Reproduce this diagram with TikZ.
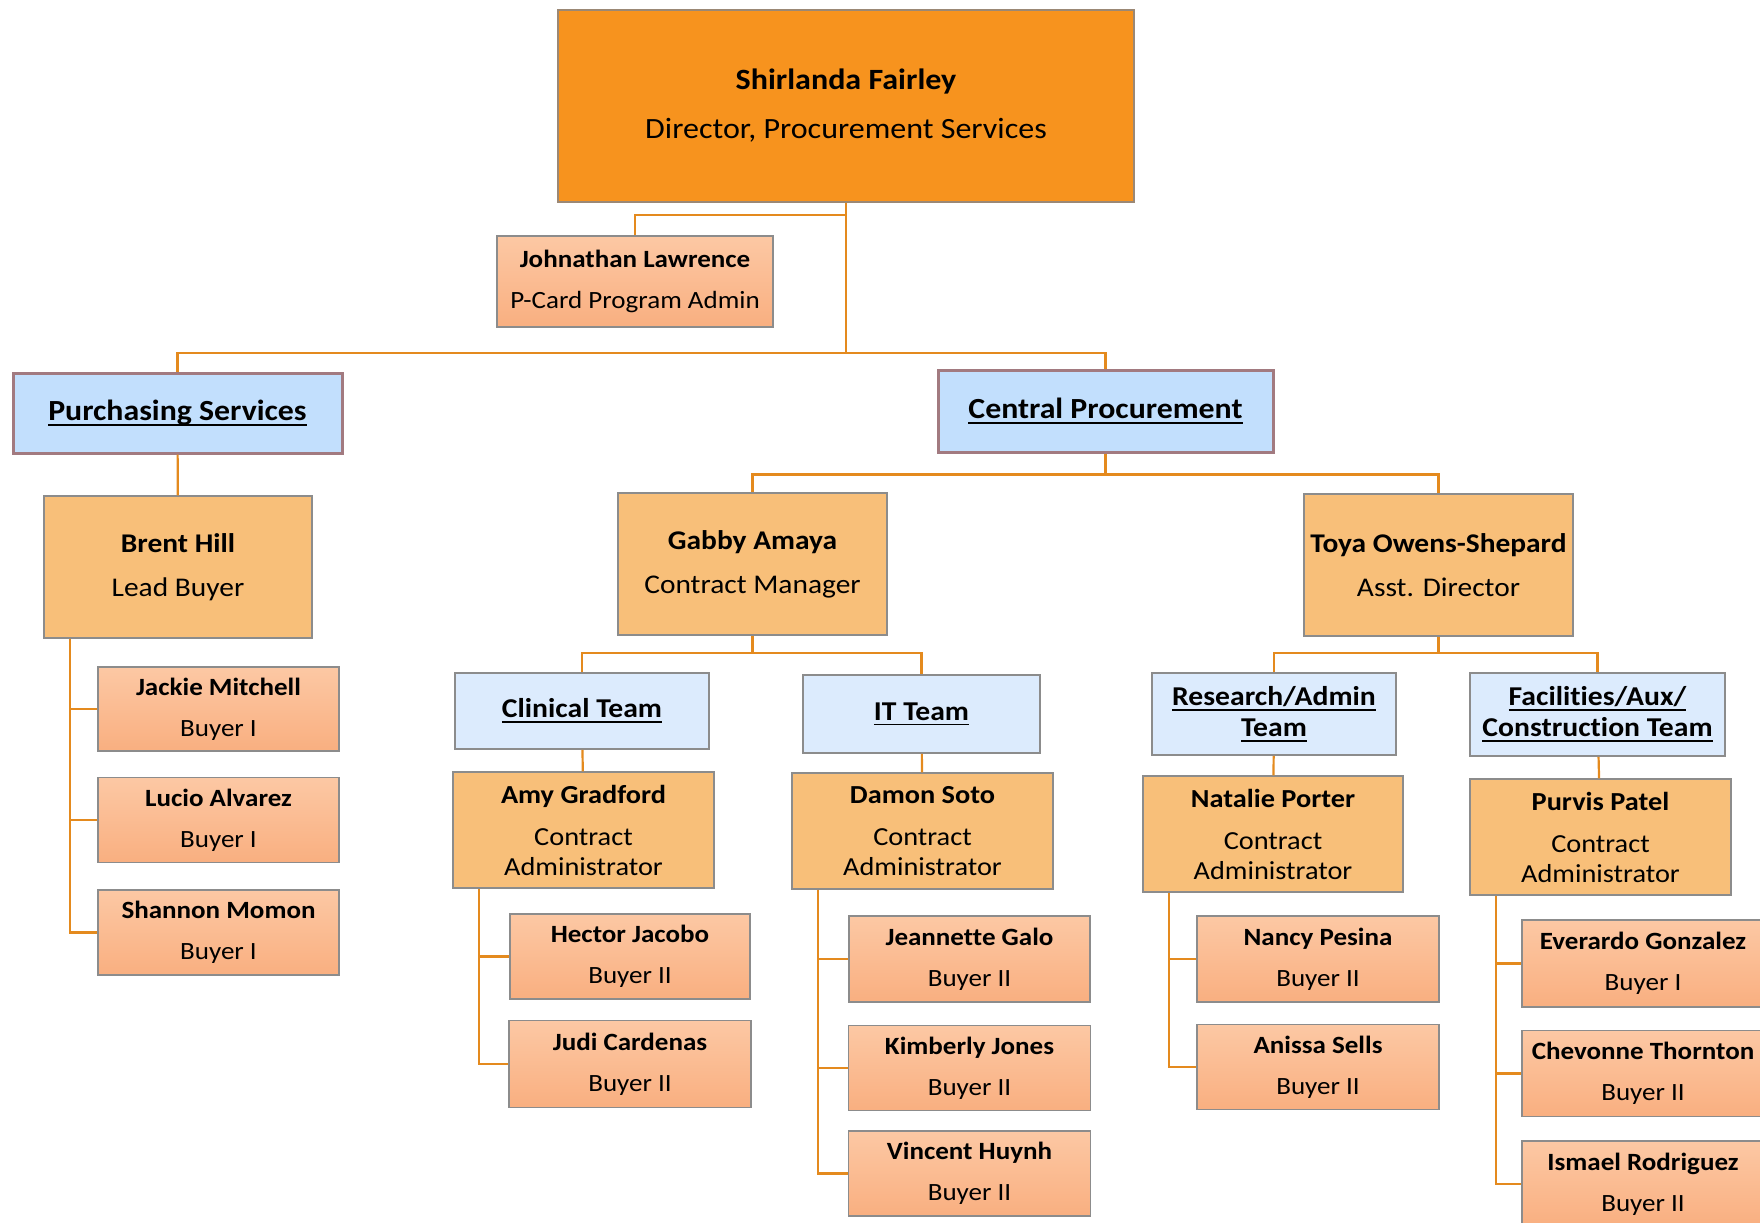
\documentclass[tikz,border=0pt]{standalone}
\usepackage{fontspec}
\setmainfont{Carlito}[FakeStretch=1.09, Ligatures=NoCommon]
\usetikzlibrary{positioning}

\definecolor{linkc}{HTML}{E48A1E}
\definecolor{dirorange}{HTML}{F7931E}
\definecolor{leadfill}{HTML}{F8BF79}
\definecolor{buyertop}{HTML}{FCC8A4}
\definecolor{buyerbot}{HTML}{F9AF80}
\definecolor{deptblue}{HTML}{C2DFFD}
\definecolor{deptline}{HTML}{A27A80}
\definecolor{teamblue}{HTML}{DCEBFD}
\definecolor{boxgray}{HTML}{8C8C8C}

% underline with a heavier rule
\newcommand{\teamline}[1]{\setbox0\hbox{#1}\rlap{\rule[-2.6pt]{\wd0}{0.9pt}}\box0}

\begin{document}
\begin{tikzpicture}
[x=0.5pt, y=-0.5pt,
every node/.style={align=center, inner sep=1pt},
wh/.style 2 args={minimum width=#1*0.5pt, minimum height=#2*0.5pt},
director/.style={draw=boxgray!70!brown, line width=0.75pt, fill=dirorange, font=\fontsize{14.7}{24.5}\selectfont},
lead/.style={draw=boxgray, line width=0.75pt, fill=leadfill, font=\fontsize{13.5}{22}\selectfont},
admin/.style={draw=boxgray, line width=0.75pt, fill=leadfill, font=\fontsize{13}{15}\selectfont},
buyer/.style={draw=boxgray, line width=0.75pt, top color=buyertop, bottom color=buyerbot, font=\fontsize{12.4}{20.5}\selectfont},
dept/.style={draw=deptline, line width=1.5pt, fill=deptblue, font=\bfseries\fontsize{14.6}{16}\selectfont},
team/.style={draw=boxgray, line width=0.75pt, fill=teamblue, font=\bfseries\fontsize{13.6}{15.5}\selectfont},
link/.style={draw=linkc, line width=1.1pt},
elbow/.style={to path={-- ++(0,#1) -| (\tikztotarget)}},
side/.style={to path={|- (\tikztotarget)}}
]
  \useasboundingbox (0,0) rectangle (1760,1222);

  % top
  \node[director, wh={576}{192}] (dir) at (846,106) {\textbf{Shirlanda Fairley}\\Director, Procurement Services};
  \node[buyer, wh={276}{91}]     (jl)  at (635,281.5) {\textbf{Johnathan Lawrence}\\P-Card Program Admin};

  % departments
  \node[dept, wh={329}{80}] (purch)   at (177.5,413)  {\teamline{Purchasing Services}};
  \node[dept, wh={335}{82}] (central) at (1105.5,411) {\teamline{Central Procurement}};

  % purchasing services
  \node[lead, wh={268}{142}] (brent) at (178,567) {\textbf{Brent Hill}\\Lead Buyer};
  \node[buyer, wh={241}{84}] (jackie)  at (218.5,709) {\textbf{Jackie Mitchell}\\Buyer I};
  \node[buyer, wh={241}{85}] (lucio)   [below=12.5pt of jackie] {\textbf{Lucio Alvarez}\\Buyer I};
  \node[buyer, wh={241}{85}] (shannon) [below=13pt of lucio]    {\textbf{Shannon Momon}\\Buyer I};

  % central procurement
  \node[lead, wh={269}{142}] (gabby) at (752.5,564)  {\textbf{Gabby Amaya}\\Contract Manager};
  \node[lead, wh={269}{142}] (toya)  at (1438.5,565) {\textbf{Toya Owens-Shepard}\\Asst. Director};

  \node[team, wh={254}{76}] (clin)     at (582,711)    {\teamline{Clinical Team}};
  \node[team, wh={237}{78}] (it)       at (921.5,714)  {\teamline{IT Team}};
  \node[team, wh={244}{82}] (research) at (1274,714)   {\teamline{Research/Admin}\\\teamline{Team}};
  \node[team, wh={255}{83}] (facil)    at (1597.5,714.5) {\teamline{Facilities/Aux/}\\\teamline{Construction Team}};

  \node[admin, wh={261}{116}] (amy)     at (583.5,830) {\textbf{Amy Gradford}\\[6pt]Contract\\Administrator};
  \node[admin, wh={261}{116}] (damon)   at (922.5,831) {\textbf{Damon Soto}\\[6pt]Contract\\Administrator};
  \node[admin, wh={260}{116}] (natalie) at (1273,834)  {\textbf{Natalie Porter}\\[6pt]Contract\\Administrator};
  \node[admin, wh={261}{116}] (purvis)  at (1600.5,837) {\textbf{Purvis Patel}\\[6pt]Contract\\Administrator};

  \node[buyer, wh={240}{85}] (hector) at (630,956.5) {\textbf{Hector Jacobo}\\Buyer II};
  \node[buyer, wh={242}{87}] (judi)   [below=10pt of hector] {\textbf{Judi Cardenas}\\Buyer II};

  \node[buyer, wh={241}{86}] (jeannette) at (969.5,959) {\textbf{Jeannette Galo}\\Buyer II};
  \node[buyer, wh={242}{85}] (kimberly)  [below=11pt of jeannette] {\textbf{Kimberly Jones}\\Buyer II};
  \node[buyer, wh={242}{85}] (vincent)   [below=9.5pt of kimberly]  {\textbf{Vincent Huynh}\\Buyer II};

  \node[buyer, wh={242}{86}] (nancy)  at (1318,959) {\textbf{Nancy Pesina}\\Buyer II};
  \node[buyer, wh={242}{85}] (anissa) [below=10.5pt of nancy] {\textbf{Anissa Sells}\\Buyer II};

  \node[buyer, wh={242}{87}] (everardo) at (1643,963.5) {\textbf{Everardo Gonzalez}\\Buyer I};
  \node[buyer, wh={242}{86}] (chevonne) [below=11pt of everardo] {\textbf{Chevonne Thornton}\\Buyer II};
  \node[buyer, wh={242}{86}] (ismael)   [below=11.5pt of chevonne] {\textbf{Ismael Rodriguez}\\Buyer II};

  % drop points for the side lines
  \foreach \n in {brent,amy,damon,natalie,purvis}
    \coordinate (\n-s) at ([xshift=13.5pt]\n.south west);

  \path[link]
    (dir.south) edge[elbow=12]  (jl.north)
    (dir.south) edge[elbow=150] (purch.north)
    (dir.south) edge[elbow=150] (central.north)
    (purch) edge (brent)
    (central.south) edge[elbow=21] (gabby.north)
    (central.south) edge[elbow=21] (toya.north)
    (gabby.south) edge[elbow=17] (clin.north)
    (gabby.south) edge[elbow=17] (it.north)
    (toya.south) edge[elbow=16] (research.north)
    (toya.south) edge[elbow=16] (facil.north)
    (clin) edge (amy)
    (it) edge (damon)
    (research) edge (natalie)
    (facil) edge (purvis)
    (brent-s) edge[side] (jackie.west)
    (brent-s) edge[side] (lucio.west)
    (brent-s) edge[side] (shannon.west)
    (amy-s) edge[side] (hector.west)
    (amy-s) edge[side] (judi.west)
    (damon-s) edge[side] (jeannette.west)
    (damon-s) edge[side] (kimberly.west)
    (damon-s) edge[side] (vincent.west)
    (natalie-s) edge[side] (nancy.west)
    (natalie-s) edge[side] (anissa.west)
    (purvis-s) edge[side] (everardo.west)
    (purvis-s) edge[side] (chevonne.west)
    (purvis-s) edge[side] (ismael.west);
\end{tikzpicture}
\end{document}
